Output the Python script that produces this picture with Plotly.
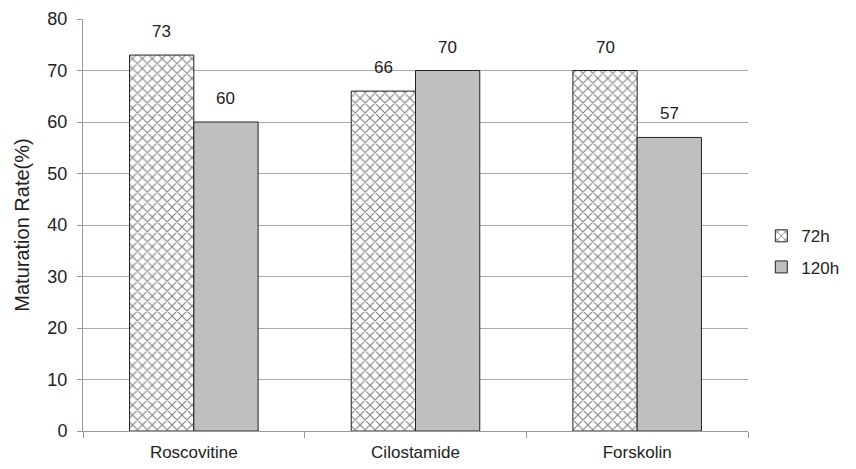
import plotly.graph_objects as go

categories = ["Roscovitine", "Cilostamide", "Forskolin"]
rate_72h = [73, 66, 70]
rate_120h = [60, 70, 57]
y_ticks = [0, 10, 20, 30, 40, 50, 60, 70, 80]

font_family = "Liberation Sans, Arial, sans-serif"

fig = go.Figure()
fig.add_trace(go.Bar(
    name="72h", x=categories, y=rate_72h, legendgroup="a",
    offsetgroup="a",
    marker=dict(color="white",
                line=dict(color="#222", width=1),
                pattern=dict(shape="x", fgcolor="#000", bgcolor="white",
                             size=7, solidity=0.28)),
))
fig.add_trace(go.Bar(
    name="120h", x=categories, y=rate_120h, legendgroup="b",
    offsetgroup="b",
    marker=dict(color="#bfbfbf", line=dict(color="#222", width=1)),
))

# value labels above each bar
for vals, xshift in ((rate_72h, -32), (rate_120h, 32)):
    for cat, v in zip(categories, vals):
        fig.add_annotation(x=cat, y=v, text=str(v), showarrow=False,
                           xshift=xshift, yshift=12, yanchor="bottom",
                           font=dict(size=17, color="#222"))

fig.update_layout(
    width=856, height=469,
    margin=dict(l=83, r=108, t=19, b=38),
    paper_bgcolor="white", plot_bgcolor="white",
    font=dict(family=font_family, size=17, color="#222"),
    barmode="group", bargap=0.42, bargroupgap=0,
    showlegend=True,
    legend=dict(x=1.02, y=0.435, xanchor="left", yanchor="middle",
                font=dict(size=17), itemwidth=30, tracegroupgap=6,
                bgcolor="rgba(0,0,0,0)"),
)
fig.update_xaxes(
    showline=True, linecolor="#999", linewidth=1,
    ticks="outside", tickson="boundaries", ticklen=6, tickcolor="#999",
    ticklabelstandoff=6, automargin=False,
    tickfont=dict(size=17), showgrid=False,
)
fig.update_yaxes(
    range=[0, 80], tickvals=y_ticks,
    showline=True, linecolor="#999", linewidth=1,
    ticks="outside", ticklen=5, tickcolor="#999",
    ticklabelstandoff=6, automargin=False,
    showgrid=True, gridcolor="#aaa", gridwidth=1,
    zeroline=False,
    tickfont=dict(size=18),
    title=dict(text="Maturation Rate(%)", font=dict(size=20), standoff=12),
)

fig.write_html("out.html")
